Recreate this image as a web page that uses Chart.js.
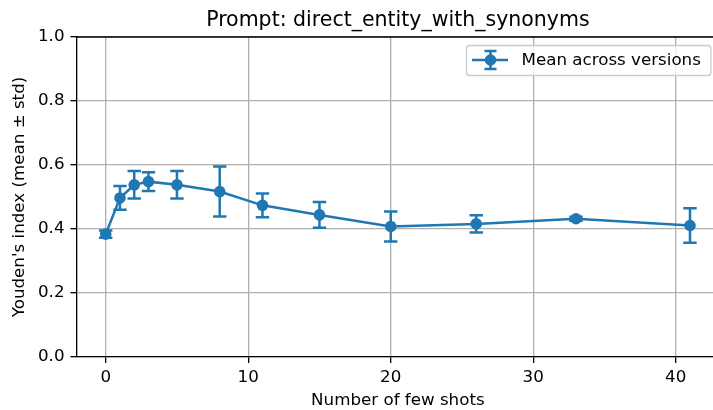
<!DOCTYPE html>
<html>
<head>
<meta charset="utf-8">
<script src="https://cdn.jsdelivr.net/npm/chart.js@4.4.1/dist/chart.umd.min.js"></script>
<style>
  html, body { margin: 0; padding: 0; background: #fff; overflow: hidden; }
  #wrap { width: 725px; height: 410px; }
</style>
</head>
<body>
<div id="wrap"><canvas id="chart" width="725" height="410"></canvas></div>
<script>
// data
var shots = [0, 1, 2, 3, 5, 8, 11, 15, 20, 26, 33, 41];
var means = [0.384, 0.497, 0.538, 0.548, 0.538, 0.517, 0.474, 0.444, 0.408, 0.416, 0.432, 0.411];
var stds  = [0.011, 0.037, 0.043, 0.029, 0.043, 0.078, 0.037, 0.040, 0.047, 0.027, 0.006, 0.054];
var xTicks = [0, 10, 20, 30, 40];
var yTicks = [0, 0.2, 0.4, 0.6, 0.8, 1.0];
var seriesLabel = 'Mean across versions';

var blue = '#1f77b4';
var font = "'DejaVu Sans', sans-serif";

var points = [];
for (let i in shots) {
    points.push({x: shots[i], y: means[i]});
}

// vertical error bars with caps, under the markers
var errorBars = {
    id: 'errorBars',
    beforeDatasetsDraw: function(chart) {
        var ctx = chart.ctx;
        var xs = chart.scales.x, ys = chart.scales.y;
        ctx.save();
        ctx.strokeStyle = blue;
        ctx.lineWidth = 2.5;
        for (let i in shots) {
            var px = xs.getPixelForValue(shots[i]);
            var top = ys.getPixelForValue(means[i] + stds[i]);
            var bot = ys.getPixelForValue(means[i] - stds[i]);
            ctx.beginPath();
            ctx.moveTo(px, top); ctx.lineTo(px, bot);
            ctx.moveTo(px - 6.7, top); ctx.lineTo(px + 6.7, top);
            ctx.moveTo(px - 6.7, bot); ctx.lineTo(px + 6.7, bot);
            ctx.stroke();
        }
        ctx.restore();
    }
};

// top/right spines + matplotlib style legend
var extras = {
    id: 'extras',
    afterDraw: function(chart) {
        var ctx = chart.ctx;
        var a = chart.chartArea;
        ctx.save();
        ctx.strokeStyle = '#000';
        ctx.lineWidth = 1.33;
        ctx.beginPath();
        ctx.moveTo(a.left, a.top);
        ctx.lineTo(a.right, a.top);
        ctx.lineTo(a.right, a.bottom);
        ctx.stroke();

        // legend box, anchored to upper right of the axes
        var bx = 466.5, by = 45.5;
        var bw = a.right - 8.3 - bx, bh = 30;
        ctx.fillStyle = 'rgba(255,255,255,0.8)';
        ctx.strokeStyle = '#cccccc';
        ctx.lineWidth = 1.33;
        ctx.beginPath();
        ctx.roundRect(bx, by, bw, bh, 3);
        ctx.fill();
        ctx.stroke();

        var cy = by + bh / 2 - 0.5;
        ctx.strokeStyle = blue;
        ctx.lineWidth = 2.5;
        ctx.beginPath();
        ctx.moveTo(472, cy); ctx.lineTo(508, cy);
        ctx.moveTo(490.5, cy - 9); ctx.lineTo(490.5, cy + 9);
        ctx.moveTo(484.5, cy - 9); ctx.lineTo(496.5, cy - 9);
        ctx.moveTo(484.5, cy + 9); ctx.lineTo(496.5, cy + 9);
        ctx.stroke();
        ctx.fillStyle = blue;
        ctx.beginPath();
        ctx.arc(490.5, cy, 5.8, 0, Math.PI * 2);
        ctx.fill();

        ctx.fillStyle = '#000';
        ctx.font = '16.7px ' + font;
        ctx.textBaseline = 'middle';
        ctx.textAlign = 'left';
        ctx.fillText(seriesLabel, 521.5, cy + 0.5);
        ctx.restore();
    }
};

var ctx = document.getElementById('chart').getContext('2d');
var chart = new Chart(ctx, {
    type: 'line',
    data: {
        datasets: [{
            label: seriesLabel,
            data: points,
            borderColor: blue,
            backgroundColor: blue,
            borderWidth: 2.5,
            pointRadius: 5.8,
            pointBorderWidth: 0,
            pointBackgroundColor: blue,
            tension: 0
        }]
    },
    options: {
        responsive: false,
        animation: false,
        layout: { padding: { left: 0, right: 2, top: 0, bottom: 0 } },
        plugins: {
            legend: { display: false },
            tooltip: { enabled: false },
            title: {
                display: true,
                fullSize: false,
                text: 'Prompt: direct_entity_with_synonyms',
                color: '#000',
                font: { family: font, size: 20.5, weight: 'normal', lineHeight: 1.2 },
                padding: { top: 8, bottom: 4.4 }
            }
        },
        scales: {
            x: {
                type: 'linear',
                min: -2.05,
                max: 43.05,
                afterBuildTicks: function(scale) {
                    scale.ticks = xTicks.map(function(v) { return {value: v}; });
                },
                afterFit: function(scale) { scale.height = 53; },
                grid: { color: '#b0b0b0', lineWidth: 1.33, tickColor: '#000', tickLength: 6 },
                border: { color: '#000', width: 1.33 },
                ticks: {
                    color: '#000',
                    padding: 5,
                    maxRotation: 0,
                    font: { family: font, size: 16.7, lineHeight: 1.2 },
                    callback: function(v) { return String(v); }
                },
                title: {
                    display: true,
                    text: 'Number of few shots',
                    color: '#000',
                    font: { family: font, size: 16.7, lineHeight: 1.1 },
                    padding: { top: 0, bottom: 0 }
                }
            },
            y: {
                min: 0,
                max: 1,
                afterBuildTicks: function(scale) {
                    scale.ticks = yTicks.map(function(v) { return {value: v}; });
                },
                afterFit: function(scale) { scale.width = 76.5; },
                grid: { color: '#b0b0b0', lineWidth: 1.33, tickColor: '#000', tickLength: 6 },
                border: { color: '#000', width: 1.33 },
                ticks: {
                    color: '#000',
                    padding: 6,
                    font: { family: font, size: 16.7, lineHeight: 1.2 },
                    callback: function(v) { return Number(v).toFixed(1); }
                },
                title: {
                    display: true,
                    text: "Youden's index (mean \u00b1 std)",
                    color: '#000',
                    font: { family: font, size: 16.7, lineHeight: 1.2 },
                    padding: { top: 10, bottom: 0 }
                }
            }
        }
    },
    plugins: [errorBars, extras]
});
</script>
</body>
</html>
